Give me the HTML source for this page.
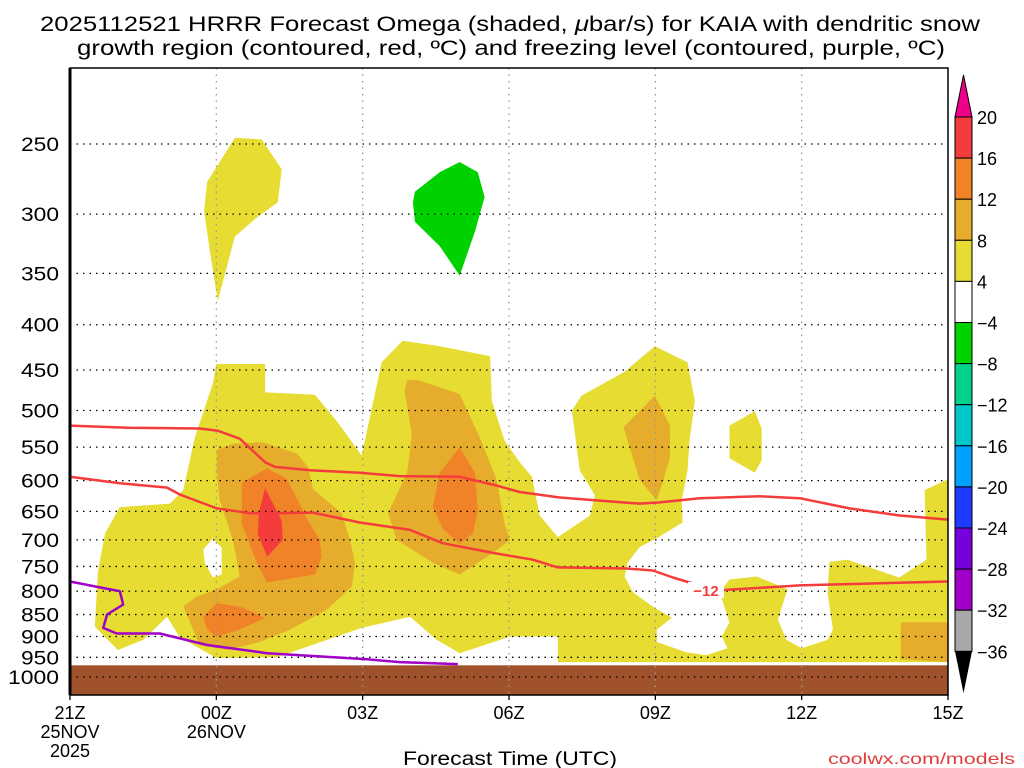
<!DOCTYPE html>
<html><head><meta charset="utf-8"><style>
html,body{margin:0;padding:0;background:#fff;}
svg{display:block;font-family:"Liberation Sans",sans-serif;}
</style></head><body>
<svg id="chart" width="1024" height="768" viewBox="0 0 1024 768" xmlns="http://www.w3.org/2000/svg">
<rect width="1024" height="768" fill="#fff"/>
<text x="40" y="31" font-size="21" textLength="940" lengthAdjust="spacingAndGlyphs">2025112521 HRRR Forecast Omega (shaded, <tspan font-style="italic">μ</tspan>bar/s) for KAIA with dendritic snow</text>
<text x="77" y="55" font-size="21" textLength="868" lengthAdjust="spacingAndGlyphs">growth region (contoured, red, ºC) and freezing level (contoured, purple, ºC)</text>
<g id="shade"></g>
<g id="grid"></g>
<g id="lines"></g>
<g id="axes"></g>
<g id="cbar"></g>
<text x="403" y="765" font-size="19" textLength="214" lengthAdjust="spacingAndGlyphs">Forecast Time (UTC)</text>
<text x="828" y="764" font-size="16" textLength="187" lengthAdjust="spacingAndGlyphs" fill="#e03c3c">coolwx.com/models</text>
</svg>
<script>
const xTickLabels=[["21Z","25NOV","2025"],["00Z","26NOV"],["03Z"],["06Z"],["09Z"],["12Z"],["15Z"]];
const xTickHours=[0,3,6,9,12,15,18];
const pTicks=[250,300,350,400,450,500,550,600,650,700,750,800,850,900,950,1000];
const yellowMain=[[3.0,443],[4.0,443],[4.0,477],[5.02,480],[5.47,514],[5.98,562],[6.39,441],[6.82,417],[7.58,423],[8.61,434],[8.65,488],[8.91,541],[9.22,572],[9.47,594],[9.63,657],[10.0,695],[10.66,657],[10.76,623],[10.45,584],[10.29,500],[10.49,481],[11.37,452],[11.99,423],[12.66,441],[12.81,488],[12.7,541],[12.66,584],[12.54,632],[12.56,669],[12.03,697],[11.68,713],[11.43,743],[11.37,770],[11.54,802],[11.95,833],[12.34,857],[12.03,884],[12.03,913],[12.64,938],[13.05,945],[13.48,928],[13.36,900],[13.52,868],[13.32,802],[13.52,776],[14.08,770],[14.71,796],[14.51,861],[14.69,908],[15.0,928],[15.53,908],[15.64,884],[15.53,802],[15.57,741],[15.94,737],[17.0,772],[17.56,737],[17.52,615],[18,598],[18,962],[10.0,962],[10.0,900],[9.02,900],[7.99,940],[7.52,908],[6.97,855],[5.98,880],[4.24,950],[3.01,952],[2.25,902],[1.99,855],[1.5,908],[0.98,932],[0.51,877],[0.57,762],[0.72,688],[1.02,643],[2.05,637],[2.32,615],[2.56,536],[2.93,466]];
const holeA=[[2.93,697],[3.11,715],[3.11,766],[2.93,772],[2.77,745],[2.73,718]];
const yellowUpper=[[2.81,276],[3.38,246],[3.93,247],[4.34,267],[4.26,291],[3.85,302],[3.38,318],[3.03,376],[2.87,331],[2.75,298]];
const yellowSmall=[[13.52,520],[14.04,501],[14.18,524],[14.18,569],[14.04,588],[13.52,566]];
const lvl8A=[[3.01,554],[3.34,545],[3.95,543],[4.65,559],[4.88,579],[4.98,613],[5.57,653],[5.74,700],[5.84,742],[5.78,790],[5.27,839],[4.51,884],[3.89,913],[3.22,932],[2.66,920],[2.32,832],[2.6,811],[3.01,796],[3.48,770],[3.34,700],[3.07,631],[3.01,588]];
const lvl8B=[[6.91,462],[7.13,462],[7.99,479],[8.4,536],[8.75,599],[8.91,671],[9.02,700],[8.67,724],[7.99,766],[7.44,743],[6.7,700],[6.52,653],[6.91,588],[7.01,532],[6.86,475]];
const lvl8C=[[11.35,522],[11.99,481],[12.3,520],[12.3,565],[12.15,603],[12.03,631],[11.68,599]];
const lvl8D=[[17.03,867],[18,867],[18,962],[17.03,955]];
const lvl12A=[[3.52,603],[4.04,581],[4.45,598],[4.88,666],[5.12,700],[5.16,731],[5.02,766],[4.04,782],[3.83,743],[3.52,671]];
const lvl12B=[[2.73,855],[3.01,825],[3.52,834],[4.0,857],[3.48,884],[3.01,900],[2.81,884]];
const lvl12C=[[7.99,550],[8.3,588],[8.36,648],[8.26,689],[7.99,707],[7.64,680],[7.44,643],[7.58,588]];
const lvl16A=[[4.0,612],[4.34,666],[4.36,700],[4.04,731],[3.85,689],[3.87,653]];
const greenA=[[7.07,283],[7.58,269],[7.99,262],[8.36,269],[8.5,287],[8.3,314],[7.99,352],[7.58,326],[7.07,306],[7.03,291]];
const upperLine=[[0,520],[1.23,523],[2.66,524],[3.03,527],[3.48,538],[4.0,572],[4.2,579],[4.92,584],[5.94,588],[6.76,593],[7.99,594],[8.71,607],[9.22,618],[10.04,627],[10.86,632],[11.68,637],[12.09,635],[12.91,628],[14.14,625],[14.96,628],[15.98,645],[17.01,657],[18,664]];
const lowerLine=[[0,594],[1.02,604],[1.99,611],[2.25,622],[3.01,645],[3.69,653],[4.16,653],[4.98,652],[5.94,669],[6.97,682],[7.64,706],[8.67,724],[9.49,737],[10.0,752],[11.41,754],[11.95,758],[12.36,772],[12.7,782],[13.32,798],[14.96,788],[18,780]];
const freezeLine=[[0,780],[0.61,792],[1.02,800],[1.09,828],[0.76,850],[0.68,880],[0.96,893],[1.84,893],[2.81,920],[4.04,940],[6.09,955],[6.76,962],[7.95,967]];
const surfaceP=970;
const cbLabels=["20","16","12","8","4","−4","−8","−12","−16","−20","−24","−28","−32","−36"];
const cbColors=["#f53c3c","#f08228","#e6ad2c","#e6dc32","#ffffff","#00d200","#00d28c","#00c8c8","#00a0ff","#1e3cff","#7800dc","#a000c8","#a8a8a8"];

const NS="http://www.w3.org/2000/svg";
const X0=70,X1=948,Y0=68,Y1=695;
function xs(h){return X0+h*(X1-X0)/18;}
function ys(p){return 144+384.5*Math.log(p/250);}
function mk(tag,attrs,parent){const e=document.createElementNS(NS,tag);for(const k in attrs)e.setAttribute(k,attrs[k]);parent.appendChild(e);return e;}
function pts(arr){return arr.map(d=>xs(d[0]).toFixed(1)+","+ys(d[1]).toFixed(1)).join(" ");}
const shade=document.getElementById('shade');
function poly(arr,fill,name){const e=mk('polygon',{points:pts(arr),fill:fill},shade);

}
poly(yellowMain,"#e6dc32","omega-4-8-main");
poly(holeA,"#ffffff","omega-hole");
poly(yellowUpper,"#e6dc32","omega-4-8-upper");
poly(yellowSmall,"#e6dc32","omega-4-8-small");
poly(lvl8A,"#e6ad2c","omega-8-12-a");
poly(lvl8B,"#e6ad2c","omega-8-12-b");
poly(lvl8C,"#e6ad2c","omega-8-12-c");
poly(lvl8D,"#e6ad2c","omega-8-12-d");
poly(lvl12A,"#f08228","omega-12-16-a");
poly(lvl12B,"#f08228","omega-12-16-b");
poly(lvl12C,"#f08228","omega-12-16-c");
poly(lvl16A,"#f53c3c","omega-16-20-a");
poly(greenA,"#00d200","omega-neg4-neg8");
const g=mk('rect',{x:X0,y:ys(surfaceP),width:X1-X0,height:Y1-ys(surfaceP),fill:"#a0522d"},shade);



const grid=document.getElementById('grid');
pTicks.forEach(p=>{const l=mk('line',{x1:X0,x2:X1,y1:ys(p),y2:ys(p),stroke:"#000","stroke-width":1.3,"stroke-dasharray":"1.5 5"},grid);

});
xTickHours.slice(1,6).forEach(h=>{const l=mk('line',{x1:xs(h),x2:xs(h),y1:Y0,y2:Y1,stroke:"#999","stroke-width":1.3,"stroke-dasharray":"1.5 5"},grid);

});

const lines=document.getElementById('lines');
function pl(arr,col,name){const e=mk('polyline',{points:pts(arr),fill:"none",stroke:col,"stroke-width":2.5,"stroke-linejoin":"round"},lines);

}
pl(upperLine,"#f53c3c","dgz-upper-contour");
pl(lowerLine,"#f53c3c","dgz-lower-contour");
pl(freezeLine,"#a000c8","freezing-level-contour");
const lb=mk('rect',{x:688,y:582,width:36,height:16,fill:"#fff"},lines);


const lt=mk('text',{x:706,y:596,"font-size":15,"font-weight":"bold","text-anchor":"middle",fill:"#f53c3c"},lines);
lt.textContent="−12";



const ax=document.getElementById('axes');
const fr=mk('rect',{x:X0,y:Y0,width:X1-X0,height:Y1-Y0,fill:"none",stroke:"#000","stroke-width":1.5},ax);


const la=mk('line',{x1:X0,x2:X0,y1:Y0,y2:Y1,stroke:"#000","stroke-width":3},ax);


pTicks.forEach(p=>{const s=String(p);const w=s.length===4?51:38;
const t=mk('text',{x:59-w,y:ys(p)+7,"font-size":19,textLength:w,lengthAdjust:"spacingAndGlyphs"},ax);
t.textContent=s;

});
xTickHours.forEach((h,i)=>{xTickLabels[i].forEach((s,j)=>{const t=mk('text',{x:xs(h),y:719+j*19,"font-size":18,"text-anchor":"middle"},ax);
t.textContent=s;

});
const tk=mk('line',{x1:xs(h),x2:xs(h),y1:Y1,y2:Y1+5,stroke:"#000","stroke-width":1.3},ax);

});

const cb=document.getElementById('cbar');
const CX=955,CW=17,CT=117,CS=41.1;
const up=mk('polygon',{points:`${CX},${CT} ${CX+CW},${CT} ${CX+CW/2},${CT-42}`,fill:"#ee0088",stroke:"#000","stroke-width":1},cb);


cbColors.forEach((c,i)=>{const r=mk('rect',{x:CX,y:CT+i*CS,width:CW,height:CS,fill:c,stroke:"#000","stroke-width":1},cb);

});
const yb=CT+cbColors.length*CS;
const dn=mk('polygon',{points:`${CX},${yb} ${CX+CW},${yb} ${CX+CW/2},${yb+42}`,fill:"#000"},cb);


cbLabels.forEach((s,i)=>{const t=mk('text',{x:977,y:CT+i*CS+7,"font-size":18},cb);
t.textContent=s;

});
</script>
</body></html>
